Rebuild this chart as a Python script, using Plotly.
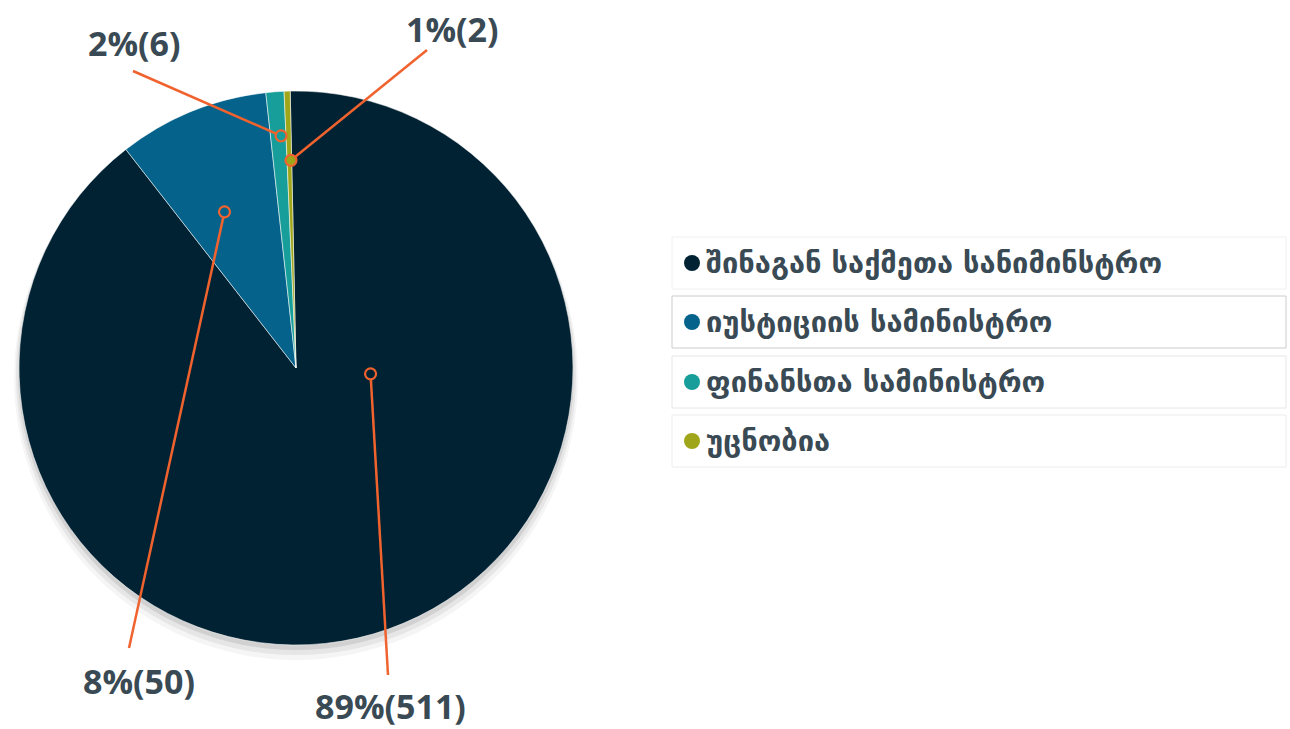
import math
import plotly.graph_objects as go

# ---- data ----
categories = ["შინაგან საქმეთა სანიმინსტრო", "იუსტიციის სამინისტრო", "ფინანსთა სამინისტრო", "უცნობია"]
values = [511, 50, 6, 2]
value_labels = ["89%(511)", "8%(50)", "2%(6)", "1%(2)"]

# ---- styles ----
colors = ["#012232", "#05628b", "#179e9a", "#9fa61a"]
W, H = 1290, 729
CX, CY, R = 296, 368, 277
ROT = -1.2
ORANGE = "#f0622e"
TEXT = "#3a4a54"

# anchor position inside each slice: (fraction along slice angle, fraction of radius)
anchor_params = [(0.296, 0.27), (0.42, 0.62), (0.68, 0.84), (0.85, 0.75)]
# leader-line start (px) and label centre (px)
line_start = [(388, 675), (129, 648), (133, 71), (427, 50)]
label_pos = [(390, 706), (139, 681), (134, 43), (452, 29)]


def X(px):
    return px / W


def Y(py):
    return 1 - py / H


fig = go.Figure()

# soft shadow under pie
for dy, grow, op in [(10, 5, 0.04), (7, 3, 0.06), (4, 1, 0.09)]:
    fig.add_trace(go.Pie(
        values=[1], marker=dict(colors=[f"rgba(0,0,0,{op})"], line=dict(width=0)),
        domain=dict(x=[X(CX - R - grow), X(CX + R + grow)],
                    y=[Y(CY + dy + R + grow), Y(CY + dy - R - grow)]),
        textinfo="none", hoverinfo="skip", showlegend=False, sort=False))

fig.add_trace(go.Pie(
    labels=categories, values=values, sort=False, direction="clockwise", rotation=ROT,
    marker=dict(colors=colors, line=dict(color="rgba(255,255,255,0.55)", width=1)),
    domain=dict(x=[X(CX - R), X(CX + R)], y=[Y(CY + R), Y(CY - R)]),
    textinfo="none", showlegend=False))

total = sum(values)
shapes = []
annotations = []
cum = 0
for i, v in enumerate(values):
    start = ROT + 360 * cum / total
    span = 360 * v / total
    cum += v
    af, rf = anchor_params[i]
    th = math.radians(start + af * span)
    ax_px = CX + rf * R * math.sin(th)
    ay_px = CY - rf * R * math.cos(th)
    sx, sy = line_start[i]
    shapes.append(dict(type="line", xref="paper", yref="paper",
                       x0=X(sx), y0=Y(sy), x1=X(ax_px), y1=Y(ay_px),
                       line=dict(color=ORANGE, width=2.5)))
    rr = 5.5
    shapes.append(dict(type="circle", xref="paper", yref="paper",
                       x0=X(ax_px - rr), x1=X(ax_px + rr), y0=Y(ay_px + rr), y1=Y(ay_px - rr),
                       fillcolor=colors[i], line=dict(color=ORANGE, width=2.2)))
    lx, ly = label_pos[i]
    annotations.append(dict(text=value_labels[i], x=X(lx), y=Y(ly), xref="paper", yref="paper",
                            xanchor="center", yanchor="middle", showarrow=False,
                            font=dict(family="Open Sans", size=34, color=TEXT, weight="bold")))

# legend boxes
box_top = [237, 296, 356, 415]
box_h = 52
box_line = ["#f0f0f0", "#cccccc", "#e6e6e6", "#ececec"]
for i, cat in enumerate(categories):
    t = box_top[i]
    shapes.append(dict(type="rect", xref="paper", yref="paper",
                       x0=X(672), x1=X(1286), y0=Y(t + box_h), y1=Y(t),
                       line=dict(color=box_line[i], width=1), fillcolor="rgba(0,0,0,0)"))
    cy = t + box_h / 2
    shapes.append(dict(type="circle", xref="paper", yref="paper",
                       x0=X(684), x1=X(700), y0=Y(cy + 8), y1=Y(cy - 8),
                       fillcolor=colors[i], line=dict(width=0)))
    annotations.append(dict(text=cat, x=X(704), y=Y(cy), xref="paper", yref="paper",
                            xanchor="left", yanchor="middle", showarrow=False,
                            font=dict(family="DejaVu Sans", size=29, color=TEXT, weight="bold")))

fig.update_layout(width=W, height=H, margin=dict(l=0, r=0, t=0, b=0),
                  paper_bgcolor="white", plot_bgcolor="white",
                  shapes=shapes, annotations=annotations)

fig.write_html("out.html", config={"displayModeBar": False},
               post_script="document.body.style.margin='0px';document.body.style.overflow='hidden';")
